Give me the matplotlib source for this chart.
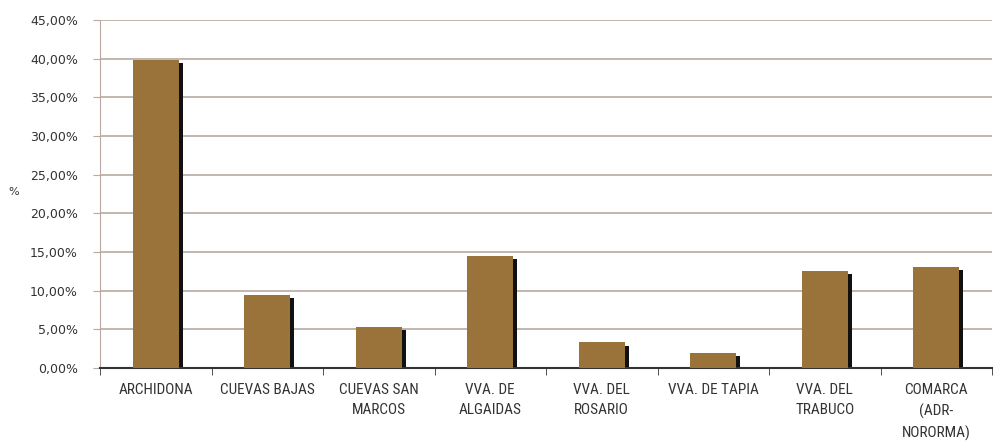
import numpy as np
import matplotlib
matplotlib.use("Agg")
import matplotlib.pyplot as plt
from matplotlib.ticker import FuncFormatter

categories = ["ARCHIDONA", "CUEVAS BAJAS", "CUEVAS SAN\nMARCOS", "VVA. DE\nALGAIDAS",
              "VVA. DEL\nROSARIO", "VVA. DE TAPIA", "VVA. DEL\nTRABUCO", "COMARCA\n(ADR-\nNORORMA)"]
values = [39.8, 9.5, 5.3, 14.5, 3.3, 1.9, 12.6, 13.1]

plt.rcParams['font.family'] = ['Roboto Condensed', 'DejaVu Sans']

fig = plt.figure(figsize=(9.94, 4.43), dpi=100)
ax = fig.add_axes([100 / 994, 1 - 368 / 443, 892 / 994, 348 / 443])

x = np.arange(len(categories))
w = 0.41
grid_c = "#b8aaa0"
txt_c = "#333333"
# black shadow behind each bar
ax.bar(x + 0.035, np.array(values) - 0.4, width=w, color="#111111", zorder=2)
ax.bar(x, values, width=w, color="#9a733b", zorder=3)

ax.set_xlim(-0.5, len(categories) - 0.5)
ax.set_ylim(0, 45)
ax.set_yticks(np.arange(0, 46, 5))
ax.yaxis.set_major_formatter(FuncFormatter(lambda v, p: f"{v:.2f}%".replace(".", ",")))
ax.grid(axis="y", color=grid_c, linewidth=1.2, zorder=0)

ax.set_xticks(x)
ax.set_xticklabels(categories, fontsize=11, color=txt_c, linespacing=1.55)
ax.set_xticks(np.arange(-0.5, len(categories)), minor=True)
ax.tick_params(axis="x", which="major", length=0, pad=11)
ax.tick_params(axis="x", which="minor", length=5, color="#333333", direction="out")
ax.tick_params(axis="y", length=5, color=grid_c, labelcolor=txt_c, pad=11)
for lbl in ax.get_yticklabels():
    lbl.set_fontfamily("DejaVu Sans")
    lbl.set_fontsize(9)

for s in ["top", "right"]:
    ax.spines[s].set_visible(False)
ax.spines["left"].set_color(grid_c)
ax.spines["bottom"].set_color("#333333")
ax.spines["bottom"].set_linewidth(1.5)

fig.text(14 / 994, 1 - 192 / 443, "%", fontsize=8, family="DejaVu Sans", color=txt_c,
         ha="center", va="center")

fig.savefig("out.png", dpi=100)
